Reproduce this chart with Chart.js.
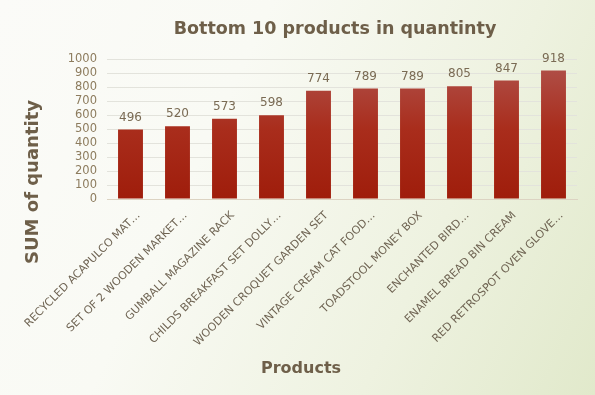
<!DOCTYPE html>
<html>
<head>
<meta charset="utf-8">
<script src="https://cdn.jsdelivr.net/npm/chart.js@4"></script>
<style>
html,body{margin:0;padding:0;width:595px;height:395px;overflow:hidden;}
body{background:linear-gradient(115deg,#fbfbf8 0%,#f9faf4 35%,#eef2e0 70%,#e1e9cb 100%);}
#wrap{position:absolute;left:0;top:0;width:595px;height:395px;}
</style>
</head>
<body>
<div id="wrap"><canvas id="c" width="595" height="395"></canvas></div>
<script>
const categories = [
  "RECYCLED ACAPULCO MAT…",
  "SET OF 2 WOODEN MARKET…",
  "GUMBALL MAGAZINE RACK",
  "CHILDS BREAKFAST SET DOLLY…",
  "WOODEN CROQUET GARDEN SET",
  "VINTAGE CREAM CAT FOOD…",
  "TOADSTOOL MONEY BOX",
  "ENCHANTED BIRD…",
  "ENAMEL BREAD BIN CREAM",
  "RED RETROSPOT OVEN GLOVE…"
];
const quantities = [496, 520, 573, 598, 774, 789, 789, 805, 847, 918];
const yTicks = [0, 100, 200, 300, 400, 500, 600, 700, 800, 900, 1000];
const chartTitle = "Bottom 10 products in quantinty";
const yTitle = "SUM of quantity";
const xTitle = "Products";

const FONT = "'DejaVu Sans', sans-serif";

const textPlugin = {
  id: 'texts',
  afterDatasetsDraw(chart) {
    const ctx = chart.ctx;
    const meta = chart.getDatasetMeta(0);
    ctx.save();
    ctx.font = "12px " + FONT;
    ctx.fillStyle = "#7a6b54";
    ctx.textAlign = "center";
    ctx.textBaseline = "bottom";
    meta.data.forEach((bar, i) => {
      ctx.fillText(String(quantities[i]), bar.x, bar.y - 6);
    });
    ctx.restore();
  },
  afterDraw(chart) {
    const ctx = chart.ctx;
    ctx.save();
    ctx.fillStyle = "#6e5f49";
    ctx.textAlign = "center";
    ctx.textBaseline = "middle";
    ctx.font = "bold 17.5px " + FONT;
    ctx.fillText(chartTitle, 335, 29);
    ctx.font = "bold 16px " + FONT;
    ctx.fillText(xTitle, 301, 369);
    ctx.translate(33, 182);
    ctx.rotate(-Math.PI / 2);
    ctx.font = "bold 18px " + FONT;
    ctx.fillText(yTitle, 0, 0);
    ctx.restore();
  }
};

const ctx = document.getElementById('c').getContext('2d');

new Chart(ctx, {
  type: 'bar',
  data: {
    labels: categories,
    datasets: [{
      data: quantities,
      backgroundColor: (c) => {
        const a = c.chart.chartArea;
        if (!a) return '#a8301f';
        const g = c.chart.ctx.createLinearGradient(0, a.top, 0, a.bottom);
        g.addColorStop(0, '#b0534d');
        g.addColorStop(0.5, '#a92d1c');
        g.addColorStop(1, '#9f1d0b');
        return g;
      },
      borderWidth: 0,
      barPercentage: 0.53,
      categoryPercentage: 1.0
    }]
  },
  options: {
    responsive: false,
    animation: false,
    devicePixelRatio: 1,
    layout: { padding: { left: 0, right: 18, top: 59, bottom: 0 } },
    plugins: { legend: { display: false }, tooltip: { enabled: false }, title: { display: false } },
    scales: {
      y: {
        min: 0, max: 1000,
        afterBuildTicks: (s) => { s.ticks = yTicks.map(v => ({ value: v })); },
        afterFit: (s) => { s.width = 107; },
        grid: { color: '#e3e3dc', lineWidth: 1, drawTicks: false },
        border: { display: false },
        ticks: {
          color: '#8d7c5e', font: { family: FONT, size: 11.5 }, padding: 10,
          autoSkip: false,
          callback: (v) => String(v)
        }
      },
      x: {
        afterFit: (s) => { s.height = 196; },
        grid: { display: false },
        border: { display: true, color: '#dcd3c2' },
        ticks: {
          color: '#6e6352',
          font: { family: FONT, size: 11 },
          minRotation: 45, maxRotation: 45,
          autoSkip: false,
          labelOffset: 8,
          padding: 2
        }
      }
    }
  },
  plugins: [textPlugin]
});
</script>
</body>
</html>
